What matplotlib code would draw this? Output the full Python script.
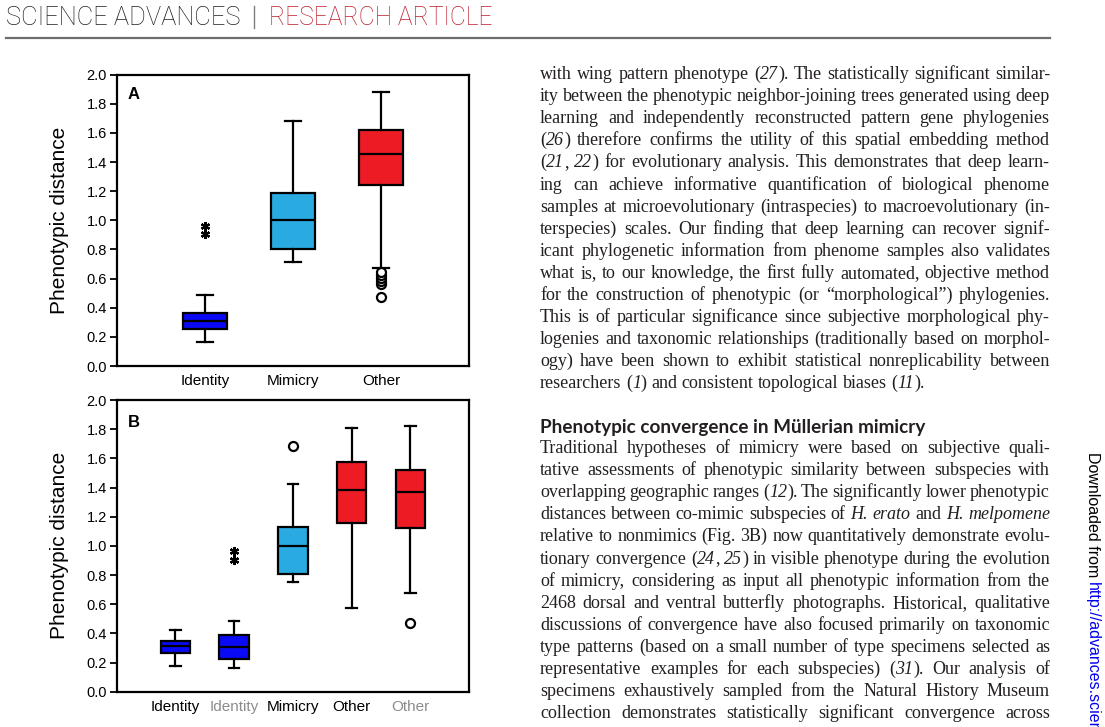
import numpy as np
import matplotlib
matplotlib.use("Agg")
import matplotlib.pyplot as plt
from matplotlib.ticker import FormatStrFormatter

plt.rcParams['font.family'] = ['Liberation Sans', 'DejaVu Sans']

# ---------------- data ----------------
cats_a = ['Identity', 'Mimicry', 'Other']
a_whislo = [0.162, 0.716, 0.675]
a_q1 = [0.252, 0.805, 1.243]
a_med = [0.311, 1.000, 1.458]
a_q3 = [0.366, 1.188, 1.618]
a_whishi = [0.485, 1.682, 1.883]
a_fliers = [[0.908, 0.963], [], [0.476, 0.563, 0.584, 0.604, 0.625, 0.645]]
a_flier_kind = ['extreme', 'outlier', 'outlier']
a_group = ['identity', 'mimicry', 'other']

cats_b = ['Identity', 'Identity', 'Mimicry', 'Other', 'Other']
b_whislo = [0.176, 0.165, 0.750, 0.574, 0.677]
b_q1 = [0.263, 0.226, 0.807, 1.159, 1.125]
b_med = [0.311, 0.304, 0.999, 1.381, 1.367]
b_q3 = [0.350, 0.391, 1.131, 1.573, 1.518]
b_whishi = [0.423, 0.487, 1.422, 1.806, 1.824]
b_fliers = [[], [0.905, 0.962], [1.682], [], [0.473]]
b_flier_kind = ['outlier', 'extreme', 'outlier', 'outlier', 'outlier']
b_group = ['identity', 'identity', 'mimicry', 'other', 'other']
b_secondary = [False, True, False, False, True]

y_ticks = [0.0, 0.2, 0.4, 0.6, 0.8, 1.0, 1.2, 1.4, 1.6, 1.8, 2.0]
y_label = 'Phenotypic distance'

header_left = 'SCIENCE ADVANCES'
header_right = 'RESEARCH ARTICLE'

para1 = [
    "with wing pattern phenotype (|27|). The statistically significant similar-",
    "ity between the phenotypic neighbor-joining trees generated using deep",
    "learning and independently reconstructed pattern gene phylogenies",
    "(|26|) therefore confirms the utility of this spatial embedding method",
    "(|21|, |22|) for evolutionary analysis. This demonstrates that deep learn-",
    "ing can achieve informative quantification of biological phenome",
    "samples at microevolutionary (intraspecies) to macroevolutionary (in-",
    "terspecies) scales. Our finding that deep learning can recover signif-",
    "icant phylogenetic information from phenome samples also validates",
    "what is, to our knowledge, the first fully automated, objective method",
    "for the construction of phenotypic (or \u201cmorphological\u201d) phylogenies.",
    "This is of particular significance since subjective morphological phy-",
    "logenies and taxonomic relationships (traditionally based on morphol-",
    "ogy) have been shown to exhibit statistical nonreplicability between",
    "researchers (|1|) and consistent topological biases (|11|).",
]
heading = "Phenotypic convergence in M\u00fcllerian mimicry"
para2 = [
    "Traditional hypotheses of mimicry were based on subjective quali-",
    "tative assessments of phenotypic similarity between subspecies with",
    "overlapping geographic ranges (|12|). The significantly lower phenotypic",
    "distances between co-mimic subspecies of |H. erato| and |H. melpomene|",
    "relative to nonmimics (Fig. 3B) now quantitatively demonstrate evolu-",
    "tionary convergence (|24|, |25|) in visible phenotype during the evolution",
    "of mimicry, considering as input all phenotypic information from the",
    "2468 dorsal and ventral butterfly photographs. Historical, qualitative",
    "discussions of convergence have also focused primarily on taxonomic",
    "type patterns (based on a small number of type specimens selected as",
    "representative examples for each subspecies) (|31|). Our analysis of",
    "specimens exhaustively sampled from the Natural History Museum",
    "collection demonstrates statistically significant convergence across",
]
side_text = "Downloaded from "
side_link = "http://advances.sciencemag.org/"

# ---------------- figure ----------------
W, H = 1105, 727
fig = plt.figure(figsize=(W / 100, H / 100), dpi=100)
fig.patch.set_facecolor('white')
R = fig.canvas.get_renderer()


def fx(px):
    return px / W


def fy(py):
    return 1 - py / H


GROUP_COLORS = {'identity': '#0A0AF5', 'mimicry': '#29ABE2', 'other': '#ED1C24'}


def draw_panel(rect, cats, whislo, q1, med, q3, whishi, fliers, kinds, groups,
               letter, letter_y, label_colors):
    ax = fig.add_axes(rect)
    stats = []
    for c, lo, a, m, b, hi, fl in zip(cats, whislo, q1, med, q3, whishi, fliers):
        stats.append(dict(label=c, whislo=lo, q1=a, med=m, q3=b, whishi=hi,
                          fliers=np.array(fl)))
    pos = np.arange(1, len(cats) + 1)
    res = ax.bxp(stats, positions=pos, widths=0.5, capwidths=0.18,
                 patch_artist=True, showfliers=True,
                 boxprops=dict(linewidth=1.6, edgecolor='black'),
                 medianprops=dict(color='black', linewidth=1.6),
                 whiskerprops=dict(color='black', linewidth=1.6),
                 capprops=dict(color='black', linewidth=1.6))
    for patch, g in zip(res['boxes'], groups):
        patch.set_facecolor(GROUP_COLORS[g])
    for fl, k in zip(res['fliers'], kinds):
        if k == 'extreme':
            fl.set(marker=(6, 2, 0), markersize=6.5, markeredgewidth=1.6,
                   markeredgecolor='black', markerfacecolor='black', linestyle='none')
        else:
            fl.set(marker='o', markersize=6.5, markeredgewidth=1.6,
                   markeredgecolor='black', markerfacecolor='white', linestyle='none')
    ax.set_xlim(0, len(cats) + 1)
    ax.set_ylim(0, 2.0)
    ax.set_yticks(y_ticks)
    ax.yaxis.set_major_formatter(FormatStrFormatter('%.1f'))
    ax.tick_params(axis='y', direction='out', length=5, width=1.3, labelsize=10.5,
                   pad=2)
    ax.tick_params(axis='x', length=0, labelsize=11, pad=6)
    for sp in ax.spines.values():
        sp.set_linewidth(1.6)
    for t, col in zip(ax.get_xticklabels(), label_colors):
        t.set_color(col)
    yl = ax.set_ylabel(y_label, fontsize=15)
    ax.yaxis.set_label_coords(-0.161, 0.5)
    yl.set_verticalalignment('center')
    ax.text(0.031, letter_y, letter, transform=ax.transAxes, fontsize=12,
            fontweight='bold', ha='left', va='top')
    return ax


ax_w = (469 - 116.7) / W
draw_panel([116.7 / W, 1 - 366 / H, ax_w, (366 - 74.7) / H],
           cats_a, a_whislo, a_q1, a_med, a_q3, a_whishi, a_fliers,
           a_flier_kind, a_group, 'A', 0.959, ['black'] * 3)
draw_panel([116.7 / W, 1 - 691.7 / H, ax_w, (691.7 - 400) / H],
           cats_b, b_whislo, b_q1, b_med, b_q3, b_whishi, b_fliers,
           b_flier_kind, b_group, 'B', 0.949,
           ['#8C8C8C' if s else 'black' for s in b_secondary])


# ---------------- header ----------------
def fit_text(x, y, s, target_w, **kw):
    t = fig.text(fx(x), fy(y), s, **kw)
    w = t.get_window_extent(R).width
    t.set_fontsize(t.get_fontsize() * target_w / w)
    return t


fit_text(6, 25, header_left, 235, fontsize=16, family=['Roboto', 'DejaVu Sans'],
         fontweight='light', color='#231F20', va='baseline', ha='left')
fit_text(269, 25, header_right, 224, fontsize=16, family=['Roboto', 'DejaVu Sans'],
         fontweight='light', color='#BE1E2D', va='baseline', ha='left')
fig.add_artist(plt.Line2D([fx(254), fx(254)], [fy(6), fy(28)], color='#7F7F7F',
                          linewidth=1.0))
fig.add_artist(plt.Line2D([fx(6), fx(1050)], [fy(37.5), fy(37.5)], color='#6D6E71',
                          linewidth=1.6))

# ---------------- body text ----------------
SERIF = ['Liberation Serif', 'DejaVu Serif']
TEXT_COL = '#231F20'
X0, X1 = 540, 1050


def parse(line):
    words, cur, buf, ital = [], [], '', False
    for ch in line:
        if ch == '|':
            if buf:
                cur.append((buf, ital))
                buf = ''
            ital = not ital
        elif ch == ' ':
            if buf:
                cur.append((buf, ital))
                buf = ''
            if cur:
                words.append(cur)
                cur = []
        else:
            buf += ch
    if buf:
        cur.append((buf, ital))
    if cur:
        words.append(cur)
    return words


def measure(s, size, italic=False):
    t = fig.text(0, 0, s, family=SERIF, fontsize=size,
                 style='italic' if italic else 'normal')
    w = t.get_window_extent(R).width
    t.remove()
    return w


# choose a body size so that justified lines fill the column naturally
BASE = 12.0
sp0 = measure('n n', BASE) - measure('nn', BASE)
nat = []
for line in para1[:-1] + para2:
    ws = parse(line)
    tot = sum(measure(txt, BASE, it) for wd in ws for txt, it in wd)
    nat.append(tot + sp0 * (len(ws) - 1))
BODY_SIZE = BASE * (X1 - X0) / np.percentile(nat, 85)
space_w = measure('n n', BODY_SIZE) - measure('nn', BODY_SIZE)


def draw_line(line, ybase, justify):
    words = parse(line)
    items = []
    total = 0
    for word in words:
        arts = []
        for txt, it in word:
            t = fig.text(0, fy(ybase), txt, family=SERIF, fontsize=BODY_SIZE,
                         style='italic' if it else 'normal', color=TEXT_COL,
                         va='baseline', ha='left')
            w = t.get_window_extent(R).width
            arts.append((t, w))
            total += w
        items.append(arts)
    n = len(items)
    gap = (X1 - X0 - total) / (n - 1) if (justify and n > 1) else space_w
    x = X0
    for arts in items:
        for t, w in arts:
            t.set_x(fx(x))
            x += w
        x += gap


LS = 22.1
for i, line in enumerate(para1):
    draw_line(line, 79 + LS * i, justify=(i < len(para1) - 1))

fit_text(X0, 433, heading, 384, family=['Lato', 'Open Sans', 'DejaVu Sans'],
         fontweight='bold', fontsize=13, color=TEXT_COL, va='baseline', ha='left')

for i, line in enumerate(para2):
    draw_line(line, 453 + LS * i, justify=True)

# ---------------- side note ----------------
t1 = fig.text(fx(1092), fy(452), side_text, rotation=270, fontsize=11.5,
              color='black', ha='center', va='top')
h1 = t1.get_window_extent(R).height
fig.text(fx(1092), fy(452 + h1), side_link, rotation=270, fontsize=11.5,
         color='#0000EE', ha='center', va='top')

fig.savefig('out.png', dpi=100, facecolor='white')
